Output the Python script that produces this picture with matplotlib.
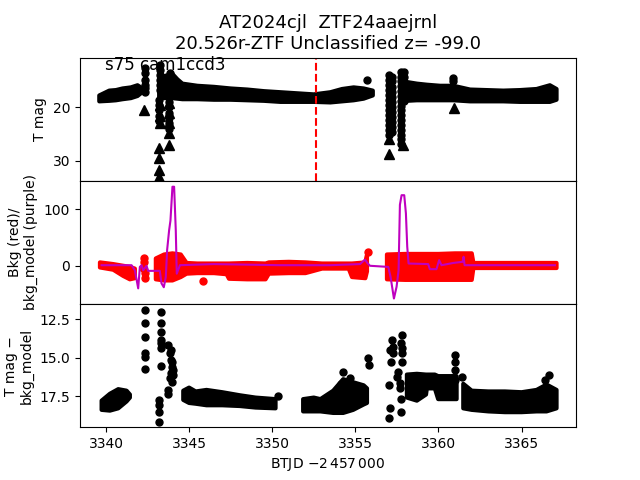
import numpy as np
import matplotlib
matplotlib.use('Agg')
import matplotlib.pyplot as plt

nan = np.nan

# Panel 1: T mag, dense band given as envelope of the points (NaN = gap)
mag_band_t = [3339.6, 3340.2, 3340.6, 3341.0, 3341.5, 3341.9, 3342.1, nan,
              3343.2, 3343.5, 3344.0, 3344.3, 3344.6, 3345.5, 3346.5, 3347.5, 3348.5,
              3349.5, 3350.5, 3351.5, 3352.5, 3353.5, 3354.2, 3354.9, 3355.5, 3356.05, nan,
              3357.9, 3358.1, 3358.7, 3359.3, 3360.1, 3360.9, 3361.9, 3362.9, 3363.9,
              3364.9, 3365.9, 3366.7, 3367.1]
mag_band_top = [17.8, 16.9, 16.8, 16.5, 16.3, 15.9, 16.3, nan,
                15.0, 14.2, 13.8, 14.8, 15.6, 16.0, 16.2, 16.5, 16.7,
                17.0, 17.2, 17.4, 17.6, 17.2, 16.6, 16.3, 16.5, 16.9, nan,
                14.5, 15.3, 15.6, 15.8, 16.0, 16.0, 16.7, 16.8, 16.9,
                16.8, 16.6, 15.9, 16.6]
mag_band_bot = [18.9, 18.8, 18.7, 18.5, 18.3, 17.9, 17.4, nan,
                18.3, 18.3, 18.3, 18.4, 18.5, 18.5, 18.6, 18.6, 18.7,
                18.8, 19.0, 19.0, 19.0, 19.1, 18.9, 18.7, 18.4, 17.8, nan,
                18.8, 18.8, 18.7, 18.7, 18.7, 18.7, 18.9, 18.9, 18.9,
                19.0, 19.0, 19.0, 18.6]

# Panel 1: single points away from the band
mag_pts_t = [3342.37, 3342.37, 3342.37, 3342.37, 3342.37, 3342.37,
             3343.25, 3343.25, 3343.25, 3343.25, 3343.25, 3343.25,
             3343.2, 3343.2, 3343.2, 3343.2, 3343.2,
             3343.85, 3343.85, 3343.85, 3343.85,
             3343.8, 3343.8, 3343.8, 3343.8, 3343.8, 3343.8,
             3355.73,
             3357.0, 3357.0, 3357.0, 3357.0, 3357.0, 3357.0, 3357.0, 3357.0, 3357.0,
             3357.0, 3357.0, 3357.0, 3357.0,
             3357.2, 3357.2, 3357.2, 3357.2, 3357.2, 3357.2, 3357.2, 3357.2, 3357.2,
             3357.2, 3357.2, 3357.2,
             3357.75, 3357.75, 3357.75, 3357.75, 3357.75, 3357.75, 3357.75, 3357.75,
             3357.75, 3357.75, 3357.75, 3357.75, 3357.75, 3357.75, 3357.75, 3357.75,
             3357.9, 3357.9, 3357.9, 3357.9, 3357.9, 3357.9, 3357.9,
             3360.9, 3360.9]
mag_pts = [12.7, 13.7, 14.9, 15.8, 16.5, 17.1,
           12.1, 13.1, 14.0, 14.9, 15.8, 16.8,
           18.6, 19.6, 20.6, 21.6, 22.5,
           13.7, 14.6, 15.5, 16.5,
           19.0, 20.0, 21.0, 22.0, 23.0, 24.0,
           14.9,
           14.0, 14.9, 15.9, 16.8, 17.7, 18.6, 19.6, 20.5, 21.4,
           22.4, 23.3, 24.2, 25.2,
           14.3, 15.2, 16.2, 17.1, 18.0, 19.0, 19.9, 20.8, 21.8,
           22.7, 23.6, 24.6,
           13.4, 14.3, 15.2, 16.1, 17.0, 17.9, 18.8, 19.7,
           20.6, 21.5, 22.4, 23.3, 24.2, 25.1, 26.0, 26.8,
           13.5, 14.4, 15.3, 16.2, 17.1, 18.0, 18.9,
           14.5, 15.2]

# Panel 1: upper limits (triangles)
lim_t = [3342.29, 3343.25, 3343.25, 3343.25, 3343.81, 3343.81, 3343.81, 3343.81,
         3343.81, 3343.19, 3343.19, 3343.19, 3343.19, 3357.02, 3357.05, 3357.85, 3360.94]
lim_mag = [20.5, 19.6, 21.7, 23.0, 19.3, 21.1, 23.0, 24.8,
           27.0, 27.6, 29.5, 31.7, 32.9, 28.8, 25.9, 27.0, 20.1]

t_event = 3352.63

# Panel 2: background (red points, envelope) and background model (purple line)
bkg_band_t = [3339.64, 3340.44, 3341.04, 3341.44, 3341.74, nan,
              3343.0, 3343.5, 3344.0, 3344.5, 3344.85, 3345.5, 3346.5, 3347.26, 3347.4,
              3348.5, 3349.6, 3349.8, 3351.0, 3352.0, 3353.0, 3354.6, 3354.8, 3355.6,
              3355.7, nan,
              3356.9, 3358.0, 3359.2, 3360.0, 3361.0, 3362.0, 3362.1, 3364.0, 3366.0,
              3367.1]
bkg_band_top = [6, 3, 0, -2, -5, nan,
                13, 20, 22, 20, 5, 4, 4, 4, 4,
                5, 4, 6, 7, 6, 4, 4, 4, 6,
                19, nan,
                20, 21, 21, 21, 22, 22, 5, 5, 5,
                5]
bkg_band_bot = [-3, -7, -18, -24, -22, nan,
                -24, -26, -26, -20, -14, -13, -13, -15, -23,
                -24, -24, -14, -13, -13, -5, -5, -20, -22,
                -10, nan,
                -24, -25, -25, -25, -25, -25, -4, -4, -4,
                -4]
bkg_pts_t = [3342.3, 3342.3, 3342.25, 3342.35, 3342.35, 3345.83, 3355.78]
bkg_pts = [13, 7, -4, -13, -22, -27, 25]

model_t = [3339.74, 3341.54, 3341.74, 3341.94, 3342.04, 3342.14, 3342.24, 3342.44,
           3342.54, 3343.24, 3343.34, 3343.48, 3343.6, 3343.68, 3343.8, 3343.88,
           3344.0, 3344.1, 3344.2, 3344.26, 3344.45, 3346.45, 3348.46, 3350.46,
           3353.47, 3355.28, 3355.58, 3355.72, 3355.88, 3356.98, 3357.12, 3357.32,
           3357.48, 3357.6, 3357.68, 3357.78, 3357.94, 3358.04, 3358.12, 3358.2,
           3359.38, 3359.48, 3359.88, 3360.04, 3360.18, 3360.89, 3361.45, 3361.51,
           3361.57, 3367.0]
model = [1, 1, -8, -40, -2, 1, -8, 0,
         -9, -9, -31, -38, -20, 28, 63, 80,
         140, 140, 63, -14, 1, 3, 2, 1,
         1, 3, 11, 5, 0, -2, -20, -58,
         -37, -8, 108, 125, 125, 93, 34, 4,
         3, -6, -6, 10, 1, 5, 7, 16,
         1, 1]

# Panel 3: T mag - bkg_model
sub_band_t = [3339.74, 3340.24, 3340.74, 3341.24, 3341.44, nan,
              3344.65, 3345.0, 3345.4, 3346.05, 3347.0, 3348.06, 3349.0, 3350.2, nan,
              3351.86, 3352.5, 3352.9, 3353.67, 3354.27, 3354.87, 3355.5, 3355.7, nan,
              3358.1, 3358.7, 3359.25, 3359.3, 3359.78, 3359.98, 3361.09, nan,
              3361.49, 3362.0, 3363.0, 3364.0, 3365.0, 3365.9, 3366.5, 3367.1]
sub_band_top = [17.8, 17.35, 17.05, 17.15, 17.4, nan,
                17.15, 16.95, 17.2, 17.1, 17.25, 17.45, 17.6, 17.7, nan,
                17.7, 17.6, 17.7, 17.15, 16.4, 16.6, 16.8, 17.0, nan,
                16.1, 16.05, 16.1, 16.1, 16.1, 16.2, 16.2, nan,
                16.7, 17.15, 17.2, 17.2, 17.25, 17.1, 16.75, 17.1]
sub_band_bot = [18.4, 18.45, 18.3, 17.85, 17.6, nan,
                17.75, 17.95, 18.0, 18.1, 18.1, 18.15, 18.25, 18.3, nan,
                18.5, 18.5, 18.5, 18.6, 18.6, 18.4, 18.05, 17.95, nan,
                17.6, 17.8, 17.4, 17.0, 17.0, 17.7, 17.7, nan,
                18.3, 18.4, 18.5, 18.55, 18.55, 18.5, 18.5, 18.3]
sub_pts_t = [3342.37, 3342.37, 3342.37, 3342.37, 3342.37, 3342.37,
             3343.19, 3343.19, 3343.19, 3343.19,
             3343.31, 3343.31, 3343.31, 3343.31, 3343.31, 3343.31, 3343.31,
             3343.75, 3343.85, 3343.89, 3343.95, 3344.0, 3344.05, 3343.85, 3343.95,
             3343.75, 3343.75, 3343.9, 3344.0, 3344.02, 3343.9,
             3350.36, 3354.27, 3354.15, 3354.67, 3355.78, 3355.84,
             3357.08, 3357.12, 3357.18, 3357.28, 3357.24, 3357.78, 3357.74, 3357.78,
             3357.78, 3357.78, 3357.02, 3357.08, 3357.04, 3357.74, 3357.74, 3357.58,
             3357.68, 3357.68, 3357.48,
             3360.99, 3360.99, 3360.99, 3360.99, 3361.39, 3366.64, 3366.4]
sub_pts = [11.89, 12.76, 13.67, 14.72, 14.94, 15.76,
           17.76, 18.09, 18.53, 19.22,
           12.04, 12.76, 13.35, 13.85, 14.07, 14.35, 15.55,
           14.18, 14.72, 15.15, 15.59, 15.92, 16.13, 16.35, 16.57,
           17.11, 17.39, 14.5, 15.3, 15.8, 16.0,
           17.5, 15.9, 16.7, 16.35, 15.04, 15.48,
           14.5, 15.27, 13.85, 14.29, 14.72, 13.52, 14.07, 14.4,
           14.72, 15.27, 16.79, 18.31, 18.96, 17.7, 18.53, 15.92,
           16.67, 17.0, 16.24,
           14.83, 15.27, 15.81, 16.46, 16.24, 16.13, 16.46]

fig, (ax1, ax2, ax3) = plt.subplots(3, 1, sharex=True, figsize=(6.4, 4.8), dpi=100)
fig.subplots_adjust(hspace=0)

# T mag
ax1.fill_between(mag_band_t, mag_band_top, mag_band_bot, color='k', lw=3, joinstyle='round')
ax1.plot(mag_pts_t, mag_pts, 'ko', ms=5)
ax1.plot(lim_t, lim_mag, 'k^', ms=6.5)
ax1.axvline(t_event, color='r', ls='--', lw=1.5)
ax1.set_ylim(33.7, 10.75)
ax1.set_yticks([20, 30])
ax1.set_ylabel('T mag')
ax1.text(0.05, 0.9, 's75 cam1ccd3', transform=ax1.transAxes, fontsize=12)
ax1.set_title('AT2024cjl  ZTF24aaejrnl\n20.526r-ZTF Unclassified z= -99.0', fontsize=13)

# background
ax2.fill_between(bkg_band_t, bkg_band_top, bkg_band_bot, color='r', lw=3, joinstyle='round')
ax2.plot(bkg_pts_t, bkg_pts, 'ro', ms=5)
ax2.plot(model_t, model, color='m', lw=1.5)
ax2.set_ylim(-67.7, 150.5)
ax2.set_yticks([0, 100])
ax2.set_ylabel('Bkg (red)/\nbkg_model (purple)')

# T mag - bkg model
ax3.fill_between(sub_band_t, sub_band_top, sub_band_bot, color='k', lw=3, joinstyle='round')
ax3.plot(sub_pts_t, sub_pts, 'ko', ms=5)
ax3.set_ylim(19.53, 11.5)
ax3.set_yticks([12.5, 15.0, 17.5])
ax3.set_ylabel('T mag \u2212\nbkg_model')
ax3.set_xlabel(r'BTJD $-2\,457\,000$')

ax3.set_xlim(3338.44, 3368.27)
ax1.tick_params(bottom=False)
ax2.tick_params(bottom=False)

fig.savefig('out.png')
